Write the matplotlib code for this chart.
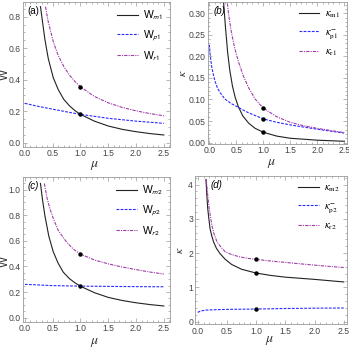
import matplotlib
matplotlib.use("Agg")
import matplotlib.pyplot as plt
from matplotlib.ticker import MultipleLocator

plt.rcParams["mathtext.fontset"] = "stix"
plt.rcParams["font.family"] = ["Liberation Sans", "DejaVu Sans"]

# ---- panel (a): W, case 1 ----
mu_wm1 = [0.28, 0.32, 0.36, 0.42, 0.51, 0.60, 0.70, 0.80, 0.90, 1.0, 1.25, 1.5, 1.75, 2.0, 2.25, 2.5]
wm1 = [0.864, 0.76, 0.655, 0.535, 0.413, 0.337, 0.275, 0.235, 0.204, 0.18, 0.137, 0.106, 0.085, 0.07, 0.058, 0.049]
mu_wp1 = [0.0, 0.25, 0.5, 0.75, 1.0, 1.5, 2.0, 2.5]
wp1 = [0.25, 0.23, 0.213, 0.196, 0.18, 0.155, 0.137, 0.123]
mu_wr1 = [0.37, 0.42, 0.51, 0.60, 0.70, 0.80, 0.90, 1.0, 1.25, 1.5, 1.75, 2.0, 2.25, 2.5]
wr1 = [0.864, 0.768, 0.642, 0.553, 0.484, 0.43, 0.389, 0.355, 0.294, 0.2535, 0.224, 0.2025, 0.185, 0.171]

# ---- panel (b): kappa, case 1 ----
mu_km1 = [0.265, 0.30, 0.34, 0.38, 0.43, 0.48, 0.54, 0.62, 0.73, 0.85, 1.0, 1.25, 1.5, 2.0, 2.5]
km1 = [0.326, 0.268, 0.21, 0.168, 0.131, 0.105, 0.083, 0.062, 0.045, 0.033, 0.024, 0.015, 0.010, 0.0055, 0.003]
mu_kp1 = [0.0, 0.02, 0.05, 0.1, 0.15, 0.2, 0.29, 0.4, 0.52, 0.62, 0.73, 1.0, 1.25, 1.5, 2.0, 2.5]
kp1 = [0.227, 0.20, 0.172, 0.145, 0.127, 0.116, 0.101, 0.091, 0.083, 0.076, 0.069, 0.055, 0.047, 0.041, 0.031, 0.022]
mu_kr1 = [0.335, 0.37, 0.41, 0.47, 0.535, 0.63, 0.73, 0.85, 1.0, 1.25, 1.5, 1.75, 2.0, 2.25, 2.5]
kr1 = [0.323, 0.288, 0.256, 0.22, 0.19, 0.155, 0.127, 0.101, 0.080, 0.060, 0.047, 0.039, 0.033, 0.028, 0.023]

# ---- panel (c): W, case 2 ----
mu_wm2 = [0.28, 0.32, 0.36, 0.43, 0.51, 0.60, 0.69, 0.80, 0.90, 1.0, 1.25, 1.5, 1.75, 2.0, 2.25, 2.5]
wm2 = [1.047, 0.91, 0.795, 0.636, 0.514, 0.423, 0.355, 0.305, 0.272, 0.245, 0.195, 0.158, 0.134, 0.116, 0.102, 0.091]
mu_wp2 = [0.0, 0.5, 1.0, 1.5, 2.0, 2.5]
wp2 = [0.26, 0.25, 0.246, 0.244, 0.242, 0.241]
mu_wr2 = [0.35, 0.40, 0.45, 0.51, 0.60, 0.75, 0.87, 1.0, 1.25, 1.5, 1.75, 2.0, 2.25, 2.5]
wr2 = [1.047, 0.93, 0.85, 0.775, 0.68, 0.59, 0.535, 0.496, 0.45, 0.42, 0.395, 0.375, 0.356, 0.34]

# ---- panel (d): kappa, case 2 ----
mu_km2 = [0.14, 0.155, 0.17, 0.19, 0.21, 0.24, 0.27, 0.32, 0.38, 0.47, 0.58, 0.75, 1.0, 1.25, 1.5, 2.0, 2.5]
km2 = [4.15, 3.7, 3.31, 3.0, 2.72, 2.5, 2.33, 2.14, 1.99, 1.82, 1.67, 1.53, 1.42, 1.35, 1.30, 1.235, 1.16]
mu_kp2 = [0.0, 0.03, 0.07, 0.15, 0.3, 0.5, 0.75, 1.0, 1.5, 2.0, 2.5]
kp2 = [0.27, 0.30, 0.32, 0.34, 0.35, 0.36, 0.365, 0.37, 0.385, 0.395, 0.40]
mu_kr2 = [0.145, 0.17, 0.195, 0.24, 0.28, 0.33, 0.40, 0.47, 0.58, 0.70, 0.85, 1.0, 1.25, 1.5, 2.0, 2.5]
kr2 = [4.15, 3.7, 3.31, 2.82, 2.55, 2.33, 2.17, 2.04, 1.96, 1.90, 1.85, 1.82, 1.77, 1.73, 1.65, 1.58]

# points marked at mu = 1
dots_a = [0.18, 0.355]
dots_b = [0.024, 0.055, 0.080]
dots_c = [0.245, 0.496]
dots_d = [1.42, 0.37, 1.82]

BLACK = "#222222"
BLUE = "#2a2aff"
PURPLE = "#a03ca8"
FRAME = "#9a9a9a"
TICKLBL = "#444444"


def style_axes(ax, xlim, ylim, ymaj, ymin, ylab, ylab_xy, xlab_xy):
    ax.set_xlim(xlim)
    ax.set_ylim(ylim)
    ax.xaxis.set_major_locator(MultipleLocator(0.5))
    ax.xaxis.set_minor_locator(MultipleLocator(0.1))
    ax.yaxis.set_major_locator(MultipleLocator(ymaj))
    ax.yaxis.set_minor_locator(MultipleLocator(ymin))
    ax.tick_params(which="both", direction="in", top=True, right=True,
                   colors=FRAME, labelcolor=TICKLBL, labelsize=6.2, width=0.5, pad=1.5)
    ax.tick_params(which="major", length=3)
    ax.tick_params(which="minor", length=1.5)
    for s in ax.spines.values():
        s.set_color(FRAME)
        s.set_linewidth(0.6)
    ax.set_xlabel(r"$\mu$", fontsize=10, color="#333333", va="center")
    ax.set_ylabel(ylab, fontsize=8.5, color="#333333", va="center")
    ax.yaxis.set_label_coords(*ylab_xy)
    ax.xaxis.set_label_coords(*xlab_xy)


fig = plt.figure(figsize=(3.49, 3.50), dpi=100)

ax_a = fig.add_axes([0.065, 0.581, 0.422, 0.413])
ax_b = fig.add_axes([0.595, 0.589, 0.398, 0.405])
ax_c = fig.add_axes([0.065, 0.080, 0.422, 0.414])
ax_d = fig.add_axes([0.559, 0.073, 0.434, 0.424])

lw = 0.8
ms = 2.2
dash_b = (0, (2.5, 1.2))
dash_p = (0, (3, 1, 1, 1))

# (a)
ax_a.plot(mu_wm1, wm1, color=BLACK, lw=lw, label=r"W$_{\mathsf{m1}}$")
ax_a.plot(mu_wp1, wp1, color=BLUE, lw=lw, ls=dash_b, label=r"W$_{\mathsf{p1}}$")
ax_a.plot(mu_wr1, wr1, color=PURPLE, lw=lw, ls=dash_p, label=r"W$_{\mathsf{r1}}$")
ax_a.plot([1.0] * len(dots_a), dots_a, "o", color="black", ms=ms)
style_axes(ax_a, (-0.04, 2.61), (-0.025, 0.893), 0.2, 0.05, "W", (-0.118, 0.5), (0.49, -0.126))
ax_a.text(0.03, 0.975, "(a)", transform=ax_a.transAxes, fontsize=7, va="top", ha="left")

# (b)
ax_b.plot(mu_km1, km1, color=BLACK, lw=lw, label=r"$\kappa_{\mathrm{m1}}$")
ax_b.plot(mu_kp1, kp1, color=BLUE, lw=lw, ls=dash_b, label=r"$\kappa_{\mathrm{p1}}^{-}$")
ax_b.plot(mu_kr1, kr1, color=PURPLE, lw=lw, ls=dash_p, label=r"$\kappa_{\mathrm{r1}}$")
ax_b.plot([1.0] * len(dots_b), dots_b, "o", color="black", ms=ms)
style_axes(ax_b, (-0.03, 2.545), (-0.003, 0.326), 0.05, 0.01, r"$\kappa$", (-0.175, 0.5), (0.46, -0.135))
ax_b.text(0.04, 0.975, "(b)", transform=ax_b.transAxes, fontsize=7, va="top", ha="left", style="italic")

# (c)
ax_c.plot(mu_wm2, wm2, color=BLACK, lw=lw, label=r"W$_{\mathsf{m2}}$")
ax_c.plot(mu_wp2, wp2, color=BLUE, lw=lw, ls=dash_b, label=r"W$_{\mathsf{p2}}$")
ax_c.plot(mu_wr2, wr2, color=PURPLE, lw=lw, ls=dash_p, label=r"W$_{\mathsf{r2}}$")
ax_c.plot([1.0] * len(dots_c), dots_c, "o", color="black", ms=ms)
style_axes(ax_c, (-0.04, 2.61), (-0.034, 1.097), 0.2, 0.05, "W", (-0.118, 0.42), (0.49, -0.136))
ax_c.text(0.03, 0.975, "(c)", transform=ax_c.transAxes, fontsize=7, va="top", ha="left", style="italic")

# (d)
ax_d.plot(mu_km2, km2, color=BLACK, lw=lw, label=r"$\kappa_{\mathrm{m2}}$")
ax_d.plot(mu_kp2, kp2, color=BLUE, lw=lw, ls=dash_b, label=r"$\kappa_{\mathrm{p2}}^{-}$")
ax_d.plot(mu_kr2, kr2, color=PURPLE, lw=lw, ls=dash_p, label=r"$\kappa_{\mathrm{r2}}$")
ax_d.plot([1.0] * len(dots_d), dots_d, "o", color="black", ms=ms)
style_axes(ax_d, (-0.046, 2.548), (-0.08, 4.25), 1, 0.2, r"$\kappa$", (-0.10, 0.5), (0.49, -0.106))
ax_d.text(0.10, 0.975, "(d)", transform=ax_d.transAxes, fontsize=7, va="top", ha="left", style="italic")

for ax in (ax_a, ax_b, ax_c, ax_d):
    ax.legend(loc="upper right", frameon=False, fontsize=7.5, handlelength=2.0,
              handletextpad=0.5, labelspacing=0.6, borderaxespad=0.25)

fig.savefig("out.png", dpi=100)
